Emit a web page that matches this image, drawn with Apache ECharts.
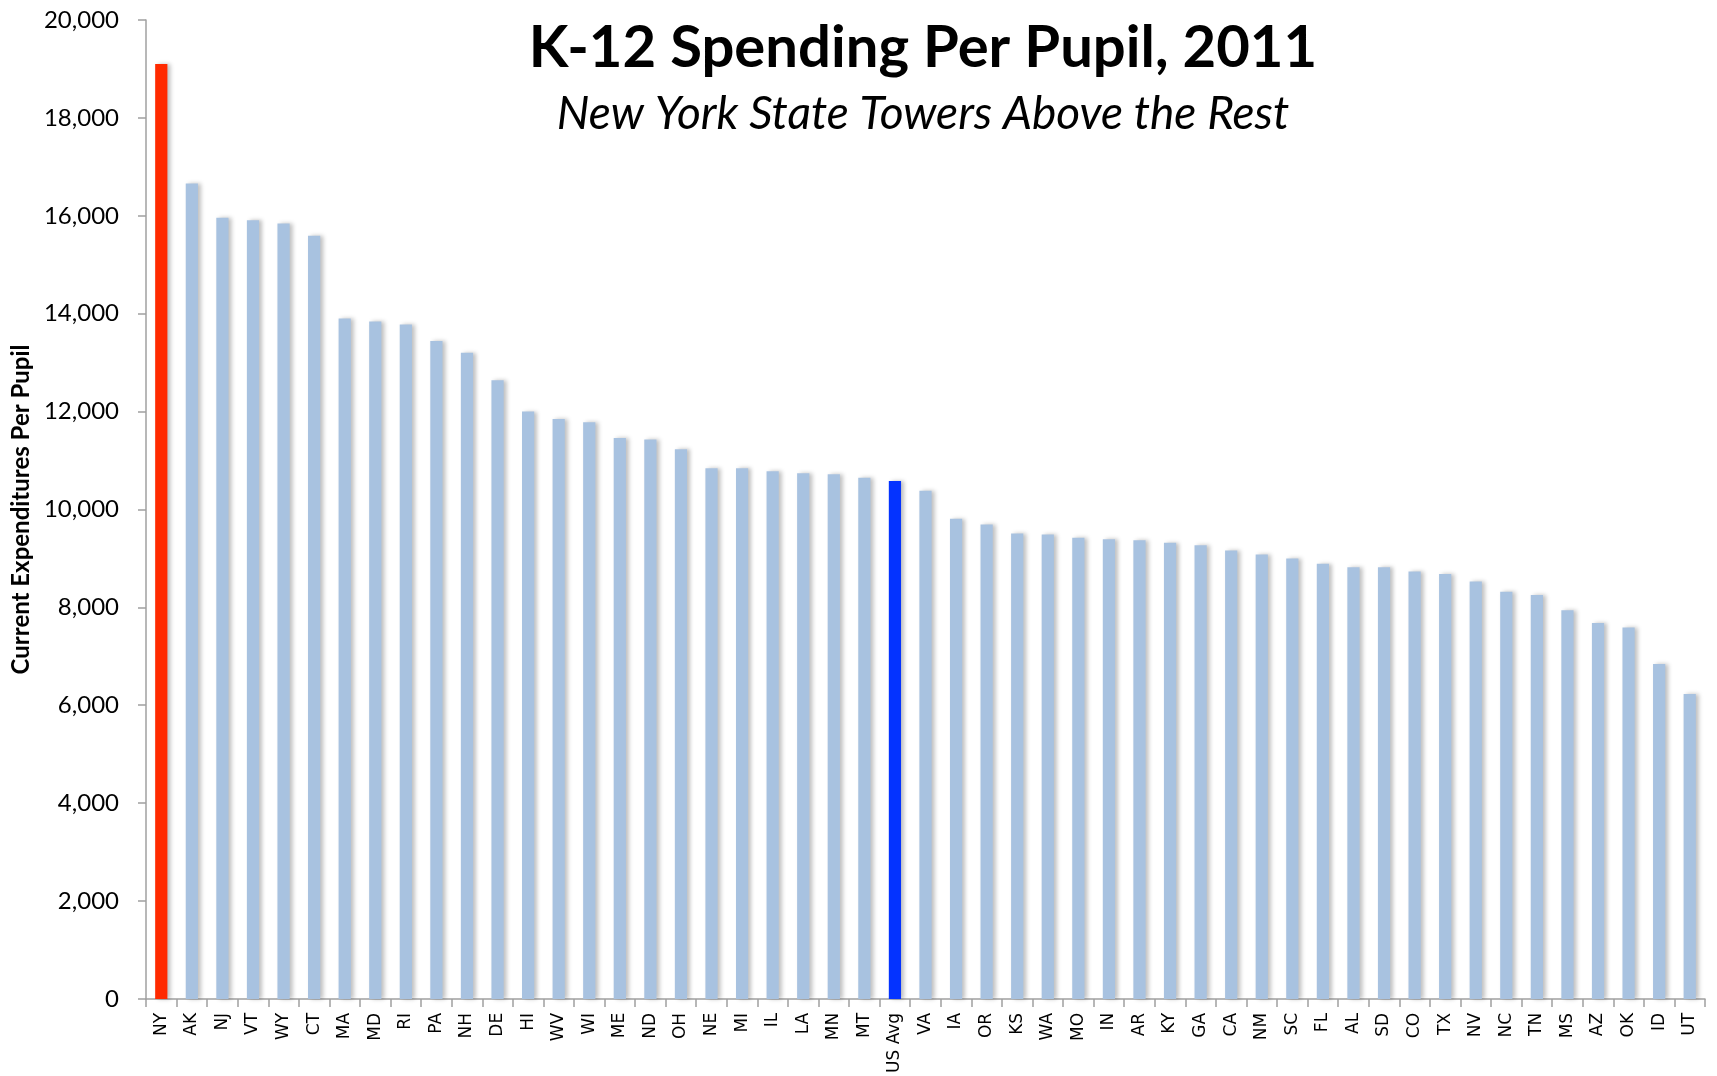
<!DOCTYPE html>
<html>
<head>
<meta charset="utf-8">
<script src="https://cdn.jsdelivr.net/npm/echarts@6/dist/echarts.min.js"></script>
<style>
  html, body { margin: 0; padding: 0; background: #fff; }
  #main { width: 1717px; height: 1076px; }
</style>
</head>
<body>
<div id="main"></div>
<script>
// states, ranked by spending
var states = ['NY','AK','NJ','VT','WY','CT','MA','MD','RI','PA','NH','DE','HI','WV','WI','ME','ND','OH','NE','MI','IL','LA','MN','MT','US Avg',
  'VA','IA','OR','KS','WA','MO','IN','AR','KY','GA','CA','NM','SC','FL','AL','SD','CO','TX','NV','NC','TN','MS','AZ','OK','ID','UT'];
// current expenditures per pupil (dollars)
var spending = [19100,16660,15960,15910,15840,15590,13900,13840,13780,13440,13200,12640,12000,11850,11780,11460,11430,11230,10840,10840,10780,10740,10720,10650,10580,
  10380,9810,9690,9510,9490,9420,9390,9370,9320,9270,9160,9080,9000,8890,8820,8820,8730,8680,8530,8320,8250,7940,7680,7590,6840,6230];
var yTicks = [0, 20000, 2000]; // min, max, step

var highlight = { 'NY': '#ff2a00', 'US Avg': '#0433ff' };
var barColor = '#a8c2e0';

var barData = [];
for (var i = 0; i < states.length; i++) {
    barData.push({
        value: spending[i],
        itemStyle: { color: highlight[states[i]] || barColor }
    });
}

var myChart = echarts.init(document.getElementById('main'));
var option = {
    animation: false,
    title: [
        {
            text: 'K-12 Spending Per Pupil, 2011',
            left: 918,
            top: 14,
            textAlign: 'center',
            textStyle: { fontFamily: 'Lato', fontWeight: 'bold', fontSize: 58, color: '#000' }
        },
        {
            text: 'New York State Towers Above the Rest',
            left: 918,
            top: 86,
            textAlign: 'center',
            textStyle: { fontFamily: 'Lato', fontStyle: 'italic', fontWeight: 'normal', fontSize: 46, color: '#000' }
        }
    ],
    grid: { left: 146, right: 12, top: 20, bottom: 74, containLabel: false },
    xAxis: {
        type: 'category',
        data: states,
        axisLine: { lineStyle: { color: '#a0a0a0', width: 1.5 } },
        axisTick: { show: true, length: 8, lineStyle: { color: '#a0a0a0', width: 1.5 } },
        axisLabel: {
            interval: 0,
            rotate: 90,
            margin: 14,
            fontFamily: 'DejaVu Sans',
            fontSize: 17,
            color: '#000'
        }
    },
    yAxis: {
        type: 'value',
        min: yTicks[0],
        max: yTicks[1],
        interval: yTicks[2],
        name: 'Current Expenditures Per Pupil',
        nameLocation: 'middle',
        nameGap: 110,
        nameTextStyle: { fontFamily: 'Lato', fontWeight: 'bold', fontSize: 24, color: '#000' },
        splitLine: { show: false },
        axisLine: { show: true, lineStyle: { color: '#a0a0a0', width: 1.5 } },
        axisTick: { show: true, length: 8, lineStyle: { color: '#a0a0a0', width: 1.5 } },
        axisLabel: {
            margin: 27,
            fontFamily: 'Lato',
            fontSize: 24,
            color: '#000',
            formatter: function (v) { return v.toLocaleString('en-US'); }
        }
    },
    series: [{
        type: 'bar',
        data: barData,
        barWidth: '40%',
        itemStyle: {
            shadowColor: 'rgba(0,0,0,0.25)',
            shadowBlur: 4,
            shadowOffsetX: 3,
            shadowOffsetY: 0
        }
    }]
};
myChart.setOption(option);
</script>
</body>
</html>
